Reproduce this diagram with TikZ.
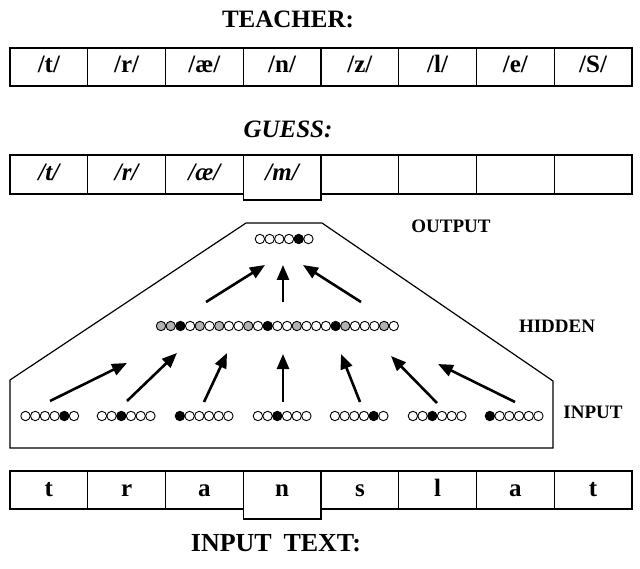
\documentclass[tikz,border=0pt]{standalone}
\usepackage{fontspec}
\setmainfont{Liberation Serif}
\usetikzlibrary{arrows.meta}
\tikzset{
  cell/.style={draw, line width=1.3pt, minimum width=77.75pt, minimum height=38pt, inner sep=0pt, text height=18pt, text depth=6pt, font=\fontsize{25}{28}\selectfont\bfseries},
  gcell/.style={cell, font=\fontsize{25}{28}\selectfont\bfseries\itshape},
  head/.style={font=\fontsize{25}{28}\selectfont\bfseries},
  lab/.style={font=\fontsize{19}{21}\selectfont\bfseries},
  unitw/.style={draw, line width=0.9pt, fill=white},
  unitb/.style={draw, line width=0.9pt, fill=black},
  unitg/.style={draw, line width=0.9pt, fill=gray!60},
  conn/.style={line width=2.6pt, -{Triangle[length=15pt,width=12pt]}},
  frame/.style={draw, line width=1.2pt}
}
\begin{document}
\begin{tikzpicture}[x=1pt,y=-1pt]
\useasboundingbox (0,0) rectangle (640,569);
% headings
\node[head] (teacher) at (288,19) {TEACHER:};
\node[head, font=\fontsize{25}{28}\selectfont\bfseries\itshape] (guess) at (288,129) {GUESS:};
\node[head, font=\fontsize{26}{29}\selectfont\bfseries] (inputtext) at (276,543) {INPUT\hspace{0.45em}TEXT:};
% teacher row
\foreach \t [count=\i] in {/t/,/r/,/æ/,/n/,/z/,/l/,/e/,/S/}{
  \node[cell] (tc\i) at ({10+77.75*(\i-0.5)},67) {\t};
}
% guess row
\foreach \t [count=\i] in {/t/,/r/,/æ/}{
  \node[gcell, minimum height=39pt] (gc\i) at ({10+77.75*(\i-0.5)},174.5) {\t};
}
\node[gcell, minimum height=45pt, text depth=12pt] (gc4) at ({10+77.75*3.5},177.5) {/m/};
\foreach \i in {5,...,8}{
  \node[gcell, minimum height=39pt] (gc\i) at ({10+77.75*(\i-0.5)},174.5) {};
}
% input text row
\foreach \t [count=\i] in {t,r,a,n,s,l,a,t}{
  \ifnum\i=4
    \node[cell, minimum height=48pt, text depth=16pt] (ic\i) at ({10+77.75*(\i-0.5)},495) {\t};
  \else
    \node[cell] (ic\i) at ({10+77.75*(\i-0.5)},490) {\t};
  \fi
}
% network frame
\draw[frame] (246,223) -- (322,223) -- (553,381) -- (553,448) -- (10,448) -- (10,380) -- cycle;
\node[lab] (outlab) at (451,226) {OUTPUT};
\node[lab] (hidlab) at (557,326) {HIDDEN};
\node[lab] (inlab) at (593,412) {INPUT};
% output units
\foreach \i in {1,...,6}{
  \ifnum\i=5 \def\st{unitb}\else\def\st{unitw}\fi
  \node[\st, circle, minimum size=9.4pt, inner sep=0pt] (o\i) at ({259.9+9.7*(\i-1)},239) {};
}
% hidden units
\foreach \k [count=\i] in {g,g,b,w,g,w,g,w,w,g,w,b,w,w,g,w,w,w,b,g,w,w,w,g,w}{
  \node[unit\k, circle, minimum size=9.4pt, inner sep=0pt] (h\i) at ({161+9.7*(\i-1)},326) {};
}
% input units
\foreach \sx/\f [count=\g] in {25.5/5,101.9/3,179.9/1,257.9/3,334.9/5,412.9/3,489.9/1}{
  \foreach \i in {1,...,6}{
    \ifnum\i=\f \def\st{unitb}\else\def\st{unitw}\fi
    \node[\st, circle, minimum size=9.4pt, inner sep=0pt] (in\g-\i) at ({\sx+9.7*(\i-1)},416) {};
  }
}
% arrow endpoints
\coordinate (ua1) at (206,302); \coordinate (ub1) at (265,265);
\coordinate (ua2) at (283,302); \coordinate (ub2) at (283,265);
\coordinate (ua3) at (361,302); \coordinate (ub3) at (303,265);
\coordinate (la1) at (50,401);  \coordinate (lb1) at (127,363);
\coordinate (la2) at (127,401); \coordinate (lb2) at (177,353);
\coordinate (la3) at (204,402); \coordinate (lb3) at (227,353);
\coordinate (la4) at (283,402); \coordinate (lb4) at (283,354);
\coordinate (la5) at (360,402); \coordinate (lb5) at (341,354);
\coordinate (la6) at (437,403); \coordinate (lb6) at (391,356);
\coordinate (la7) at (515,402); \coordinate (lb7) at (438,364);
\foreach \i in {1,2,3}{ \draw[conn] (ua\i) -- (ub\i); }
\foreach \i in {1,...,7}{ \draw[conn] (la\i) -- (lb\i); }
\end{tikzpicture}
\end{document}
